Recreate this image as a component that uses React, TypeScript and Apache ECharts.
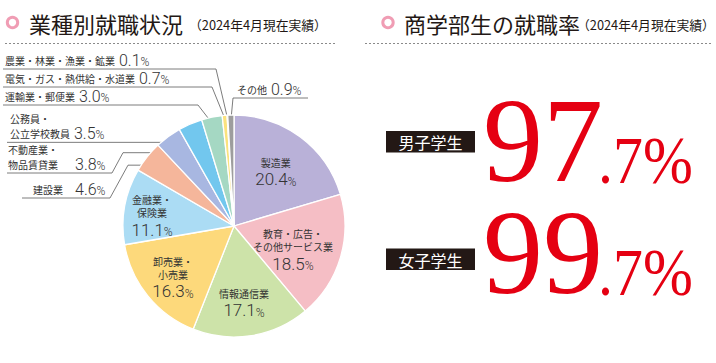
import React, { useEffect, useRef } from "react";
import * as echarts from "echarts";

// ---------- data ----------
const industries = [
  "製造業",
  "教育・広告・\nその他サービス業",
  "情報通信業",
  "卸売業・\n小売業",
  "金融業・\n保険業",
  "建設業",
  "不動産業・\n物品賃貸業",
  "公務員・\n公立学校教員",
  "運輸業・郵便業",
  "電気・ガス・熱供給・水道業",
  "農業・林業・漁業・鉱業",
  "その他",
];
const shares = [20.4, 18.5, 17.1, 16.3, 11.1, 4.6, 3.8, 3.5, 3.0, 0.7, 0.1, 0.9];
const sliceColors = [
  "#b9b1d8", "#f5bec5", "#cde3a9", "#fdd97b", "#abdcf4", "#f5b69b",
  "#a8b7e1", "#72c7ee", "#a5d8c3", "#fbe27d", "#e4e6a0", "#9d9d9d",
];
const studentGroups = ["男子学生", "女子学生"];
const employmentRates = [97.7, 99.7];
const leftTitle = "業種別就職状況";
const rightTitle = "商学部生の就職率";
const subTitle = "（2024年4月現在実績）";

// ---------- layout ----------
const CENTER = [234, 226];
const RADIUS = 111;
const JP = '"Noto Sans CJK JP", "Noto Sans", sans-serif';
const NUM = 'Roboto, "Noto Sans", sans-serif';
const SERIF = '"Liberation Serif", "DejaVu Serif", serif';
const TEXT = "#333333";
const RED = "#e50012";

type Spec = {
  inside: boolean;
  frac: number;
  dx?: number;
  dy?: number;
  labelX?: number;
  lineY?: number;
  bendX?: number;
  kneeX?: number;
  endX?: number;
  nameWidth?: number;
};
const specs: Spec[] = [
  { inside: true, frac: 0.63, dy: 2 },
  { inside: true, frac: 0.54, dx: 1.5, dy: 6.5 },
  { inside: true, frac: 0.68, dx: -2, dy: 2 },
  { inside: true, frac: 0.72, dx: 1, dy: 1 },
  { inside: true, frac: 0.75, dy: 4.5 },
  { inside: false, frac: 0.88, labelX: 33, lineY: 198, bendX: 128, kneeX: 110, endX: 22, nameWidth: 42 },
  { inside: false, frac: 0.82, labelX: 8, lineY: 173, bendX: 123, kneeX: 112, endX: 7, nameWidth: 67 },
  { inside: false, frac: 0.82, labelX: 10, endX: 7 },
  { inside: false, frac: 0.93, labelX: 5, lineY: 105, kneeX: 198, endX: 3 },
  { inside: false, frac: 0.97, labelX: 5, lineY: 87, kneeX: 212, endX: 3 },
  { inside: false, frac: 0.97, labelX: 5, lineY: 69, kneeX: 216, endX: 3 },
  { inside: false, frac: 0.96, labelX: 237, lineY: 98, kneeX: 233, endX: 308 },
];

const total = shares.reduce((a, b) => a + b, 0);
function pointOnSlice(i: number, frac: number): [number, number] {
  const before = shares.slice(0, i).reduce((a, b) => a + b, 0);
  const mid = ((before + shares[i] / 2) / total) * Math.PI * 2;
  const d = frac * RADIUS;
  return [CENTER[0] + d * Math.sin(mid), CENTER[1] - d * Math.cos(mid)];
}

function formatLabel(i: number): string {
  const s = specs[i];
  const lines = industries[i].split("\n");
  const val = shares[i].toFixed(1);
  if (s.inside) {
    return [...lines.map((l) => `{n|${l}}`), `{v|${val}}{p|%}`].join("\n");
  }
  const out = lines.map((l) => `{m|${l}}`);
  const last = lines[lines.length - 1];
  out[out.length - 1] = s.nameWidth
    ? `{w${i}|${last}}{vo|${val}}{po|%}`
    : `{m|${last}}{vg|${val}}{po|%}`;
  return out.join("\n");
}

const rich: any = {
  n: { fontFamily: JP, fontSize: 10, color: TEXT, lineHeight: 13 },
  m: { fontFamily: JP, fontSize: 10, color: TEXT, lineHeight: 13 },
  v: { fontFamily: NUM, fontWeight: 300, fontSize: 17, color: TEXT, lineHeight: 19, verticalAlign: "bottom" },
  p: { fontFamily: NUM, fontWeight: 300, fontSize: 12, color: TEXT, lineHeight: 17, verticalAlign: "bottom" },
  vo: { fontFamily: NUM, fontWeight: 300, fontSize: 16, color: TEXT, lineHeight: 16, verticalAlign: "bottom" },
  vg: { fontFamily: NUM, fontWeight: 300, fontSize: 16, color: TEXT, lineHeight: 16, verticalAlign: "bottom", padding: [0, 0, 0, 4] },
  po: { fontFamily: NUM, fontWeight: 300, fontSize: 12, color: TEXT, lineHeight: 15, verticalAlign: "bottom" },
};
specs.forEach((s, i) => {
  if (s.nameWidth) rich[`w${i}`] = { fontFamily: JP, fontSize: 10, color: TEXT, lineHeight: 13, width: s.nameWidth };
});

export default function App() {
  const ref = useRef<HTMLDivElement>(null);
  useEffect(() => {
    if (!ref.current) return;
    const chart = echarts.init(ref.current, undefined, { renderer: "svg" });

    const data = industries.map((name, i) => ({
      name,
      value: shares[i],
      itemStyle: { color: sliceColors[i] },
      label: { position: specs[i].inside ? "inside" : "outside" },
      labelLine: { show: !specs[i].inside },
    }));

    const graphics: any[] = [];
    // titles
    const titles = [
      { x: 12.5, text: leftTitle, tx: 29, sx: 189, lx0: 5, lx1: 335 },
      { x: 388, text: rightTitle, tx: 404, sx: 577, lx0: 365, lx1: 713 },
    ];
    titles.forEach((t) => {
      graphics.push({
        type: "circle",
        shape: { cx: t.x, cy: 22.5, r: 5.2 },
        style: { fill: "#fff", stroke: "#f09db4", lineWidth: 3 },
      });
      graphics.push({
        type: "text",
        x: t.tx,
        y: 23,
        style: { text: t.text, fontFamily: JP, fontSize: 22, fill: "#231815", verticalAlign: "middle", align: "left" },
      });
      graphics.push({
        type: "text",
        x: t.sx,
        y: 24,
        style: { text: subTitle, fontFamily: JP, fontSize: 12.8, fill: "#231815", verticalAlign: "middle", align: "left" },
      });
      graphics.push({
        type: "line",
        shape: { x1: t.lx0, y1: 43.5, x2: t.lx1, y2: 43.5 },
        style: { stroke: "#8a8a8a", lineWidth: 1, lineDash: [2, 2] },
      });
    });

    // employment rates
    const boxY = [131, 248.5];
    const bigY = [140, 252.5];
    const smallY = [160, 272.5];
    studentGroups.forEach((g, i) => {
      graphics.push({
        type: "rect",
        shape: { x: 386, y: boxY[i], width: 89, height: 21.5 },
        style: { fill: "#231815" },
      });
      graphics.push({
        type: "text",
        x: 430.5,
        y: boxY[i] + 11,
        style: { text: g, fontFamily: JP, fontSize: 16, fill: "#fff", align: "center", verticalAlign: "middle" },
      });
      const [ip, dp] = employmentRates[i].toFixed(1).split(".");
      graphics.push({
        type: "text",
        x: 483,
        y: bigY[i],
        style: { text: ip, fontFamily: SERIF, fontSize: 120, lineHeight: 86, fill: RED, align: "left", verticalAlign: "middle" },
      });
      graphics.push({
        type: "text",
        x: 598,
        y: smallY[i],
        scaleX: 0.88,
        style: { text: `.${dp}%`, fontFamily: SERIF, fontSize: 68, lineHeight: 48, fill: RED, align: "left", verticalAlign: "middle" },
      });
    });

    chart.setOption({
      animation: false,
      graphic: graphics,
      series: [
        {
          type: "pie",
          center: CENTER,
          radius: RADIUS,
          startAngle: 90,
          clockwise: true,
          avoidLabelOverlap: false,
          silent: true,
          emphasis: { disabled: true },
          itemStyle: { borderColor: "#ffffff", borderWidth: 1.3 },
          label: {
            show: true,
            formatter: (p: any) => formatLabel(p.dataIndex),
            rich,
          },
          labelLine: { show: true, lineStyle: { color: "#5a5a5a", width: 0.8 } },
          labelLayout: (p: any) => {
            const i = p.dataIndex;
            const s = specs[i];
            const [ax, ay] = pointOnSlice(i, s.frac);
            if (s.inside)
              return { x: ax + (s.dx ?? 0), y: ay + (s.dy ?? 0), align: "center", verticalAlign: "middle" };
            const ly = s.lineY ?? ay;
            const pts: number[][] = [[ax, ay]];
            if (s.bendX != null) pts.push([s.bendX, ay]);
            if (s.kneeX != null) pts.push([s.kneeX, ly]);
            pts.push([s.endX as number, ly]);
            return { x: s.labelX, y: ly - 1, align: "left", verticalAlign: "bottom", labelLinePoints: pts };
          },
          data,
        },
      ],
    });
    return () => chart.dispose();
  }, []);
  return (
    <div
      ref={ref}
      style={{ position: "fixed", left: 0, top: 0, width: 716, height: 363, background: "#fff" }}
    />
  );
}
